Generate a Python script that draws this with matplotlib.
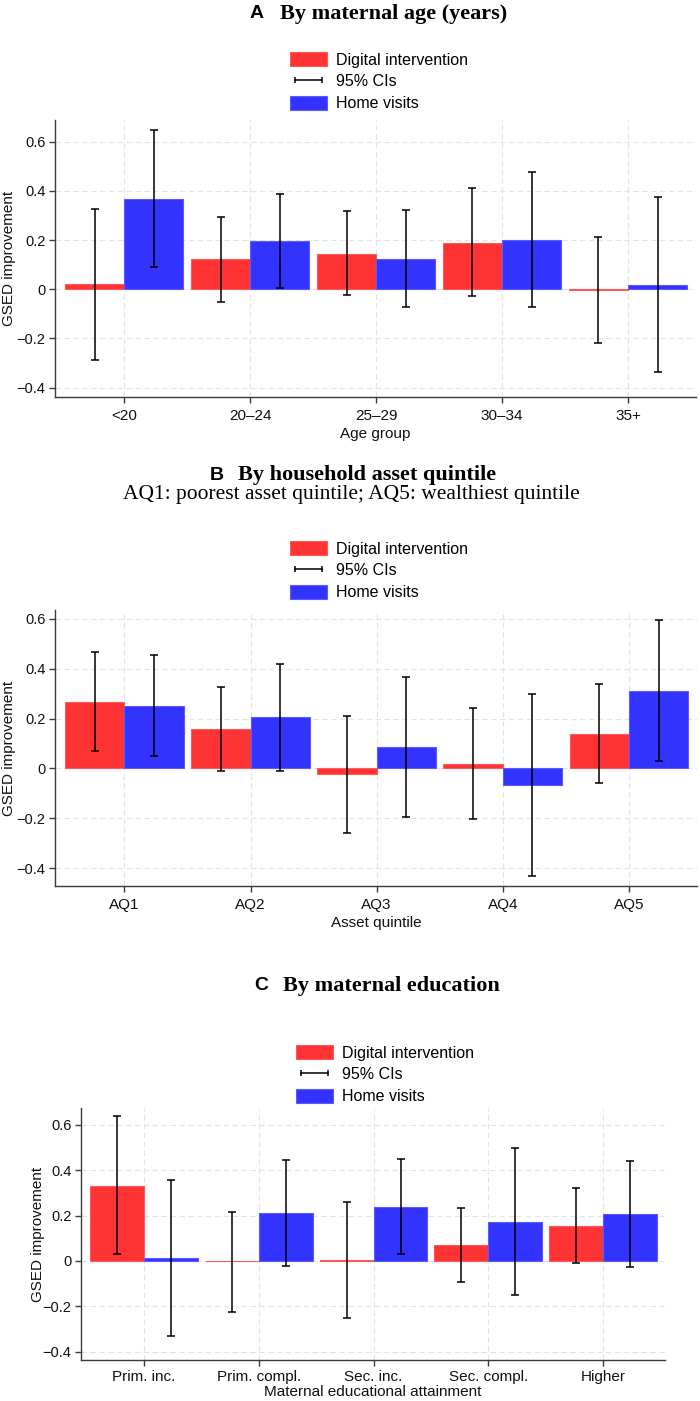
import matplotlib
matplotlib.use('Agg')
import matplotlib.pyplot as plt
from matplotlib.patches import Patch
from matplotlib.lines import Line2D
import numpy as np

# ---------------- data ----------------
age_groups = ['<20', '20–24', '25–29', '30–34', '35+']
age_digital = [0.022, 0.121, 0.145, 0.190, -0.003]
age_digital_lo = [-0.286, -0.050, -0.023, -0.028, -0.218]
age_digital_hi = [0.327, 0.293, 0.318, 0.410, 0.213]
age_home = [0.368, 0.197, 0.122, 0.199, 0.019]
age_home_lo = [0.091, 0.005, -0.073, -0.073, -0.338]
age_home_hi = [0.647, 0.388, 0.322, 0.475, 0.377]

asset_groups = ['AQ1', 'AQ2', 'AQ3', 'AQ4', 'AQ5']
asset_digital = [0.268, 0.157, -0.023, 0.019, 0.138]
asset_digital_lo = [0.070, -0.011, -0.260, -0.203, -0.059]
asset_digital_hi = [0.469, 0.327, 0.212, 0.244, 0.337]
asset_home = [0.252, 0.205, 0.086, -0.068, 0.312]
asset_home_lo = [0.048, -0.011, -0.195, -0.432, 0.028]
asset_home_hi = [0.455, 0.420, 0.367, 0.297, 0.596]

edu_groups = ['Prim. inc.', 'Prim. compl.', 'Sec. inc.', 'Sec. compl.', 'Higher']
edu_digital = [0.333, -0.002, 0.003, 0.071, 0.156]
edu_digital_lo = [0.029, -0.225, -0.253, -0.091, -0.010]
edu_digital_hi = [0.638, 0.218, 0.259, 0.233, 0.324]
edu_home = [0.012, 0.211, 0.239, 0.174, 0.206]
edu_home_lo = [-0.333, -0.022, 0.029, -0.149, -0.028]
edu_home_hi = [0.358, 0.445, 0.448, 0.499, 0.442]

yticks = [-0.4, -0.2, 0, 0.2, 0.4, 0.6]
yticklabels = ['\u22120.4', '\u22120.2', '0', '0.2', '0.4', '0.6']
legend_labels = ['Digital intervention', '95% CIs', 'Home visits']

# ---------------- style ----------------
RED = '#ff3333'
RED_EDGE = '#ff5a5a'
BLUE = '#3333ff'
BLUE_EDGE = '#5a5aff'
SANS = ['Liberation Sans', 'DejaVu Sans']
SERIF = ['Liberation Serif', 'DejaVu Serif']
plt.rcParams['font.family'] = SANS

W, H = 700, 1401
fig = plt.figure(figsize=(7, 14.01), dpi=100)


def fx(px):
    return px / W


def fy(py):
    return 1 - py / H


def panel(box, cats, dig, dlo, dhi, home, hlo, hhi, ylim, xlabel, ylab_x,
          xpad=4, xlabelpad=3):
    l, t, r, b = box
    ax = fig.add_axes([fx(l), fy(b), fx(r) - fx(l), fy(t) - fy(b)])
    x = np.arange(len(cats))
    w = 0.47
    dig = np.array(dig); home = np.array(home)
    ax.bar(x - w / 2, dig, width=w, color=RED, edgecolor=RED_EDGE, lw=0.8, zorder=2)
    ax.bar(x + w / 2, home, width=w, color=BLUE, edgecolor=BLUE_EDGE, lw=0.8, zorder=2)
    ax.errorbar(x - w / 2, dig, yerr=[dig - np.array(dlo), np.array(dhi) - dig],
                fmt='none', ecolor='black', elinewidth=1.1, capsize=2.6,
                capthick=1.1, zorder=3)
    ax.errorbar(x + w / 2, home, yerr=[home - np.array(hlo), np.array(hhi) - home],
                fmt='none', ecolor='black', elinewidth=1.1, capsize=2.6,
                capthick=1.1, zorder=3)
    ax.set_xlim(-0.55, 4.54)
    ax.set_ylim(*ylim)
    ax.set_xticks(x)
    ax.set_xticklabels(cats)
    ax.set_yticks(yticks)
    ax.set_yticklabels(yticklabels)
    ax.grid(True, color='#e4e4e4', linestyle=(0, (5, 3)), lw=0.8)
    ax.set_axisbelow(True)
    for s in ['top', 'right']:
        ax.spines[s].set_visible(False)
    for s in ['left', 'bottom']:
        ax.spines[s].set_color('#3a3a3a')
        ax.spines[s].set_linewidth(1.0)
    ax.tick_params(direction='out', length=4.5, width=1, color='#3a3a3a',
                   labelcolor='#111111')
    ax.tick_params(axis='x', labelsize=11, pad=xpad)
    ax.tick_params(axis='y', labelsize=10.5, pad=2.5)
    ax.set_xlabel(xlabel, fontsize=11, labelpad=xlabelpad, color='#111111')
    fig.text(fx(ylab_x), fy((t + b) / 2), 'GSED improvement', rotation=90,
             ha='center', va='center', fontsize=11, color='#111111')
    return ax


def legend(x_px, top_px):
    handles = [Patch(facecolor=RED, edgecolor=RED_EDGE, lw=0.8),
               Line2D([0], [0], color='black', lw=1.1, marker='|',
                      markersize=5, markeredgewidth=1.1),
               Patch(facecolor=BLUE, edgecolor=BLUE_EDGE, lw=0.8)]
    fig.legend(handles, legend_labels, loc='upper left',
               bbox_to_anchor=(fx(x_px), fy(top_px)), frameon=False,
               fontsize=11.5, handlelength=2.3, handleheight=1.0,
               handletextpad=0.55, labelspacing=0.39, borderpad=0,
               borderaxespad=0, numpoints=2)


def title(letter, text, x_letter, x_text, y_px, size=16):
    fig.text(fx(x_letter), fy(y_px), letter, ha='left', va='center',
             fontsize=14, fontweight='bold', family=SANS)
    fig.text(fx(x_text), fy(y_px), text, ha='left', va='center',
             fontsize=size, fontweight='bold', family=SERIF)


# Panel A
title('A', 'By maternal age (years)', 250, 280, 14)
legend(290, 52)
panel((55, 120, 696, 397), age_groups, age_digital, age_digital_lo, age_digital_hi,
      age_home, age_home_lo, age_home_hi, (-0.438, 0.688), 'Age group', 9)

# Panel B
title('B', 'By household asset quintile', 210, 238, 475)
fig.text(fx(351), fy(495), 'AQ1: poorest asset quintile; AQ5: wealthiest quintile',
         ha='center', va='center', fontsize=15.5, family=SERIF)
legend(290, 541)
panel((55, 610, 697, 886), asset_groups, asset_digital, asset_digital_lo,
      asset_digital_hi, asset_home, asset_home_lo, asset_home_hi, (-0.472, 0.636),
      'Asset quintile', 9)

# Panel C
title('C', 'By maternal education', 254, 283, 986)
legend(296, 1045)
panel((81, 1108, 665, 1360), edu_groups, edu_digital, edu_digital_lo, edu_digital_hi,
      edu_home, edu_home_lo, edu_home_hi, (-0.437, 0.675),
      'Maternal educational attainment', 38, xpad=3, xlabelpad=0.5)

fig.savefig('out.png', dpi=100, facecolor='white')
